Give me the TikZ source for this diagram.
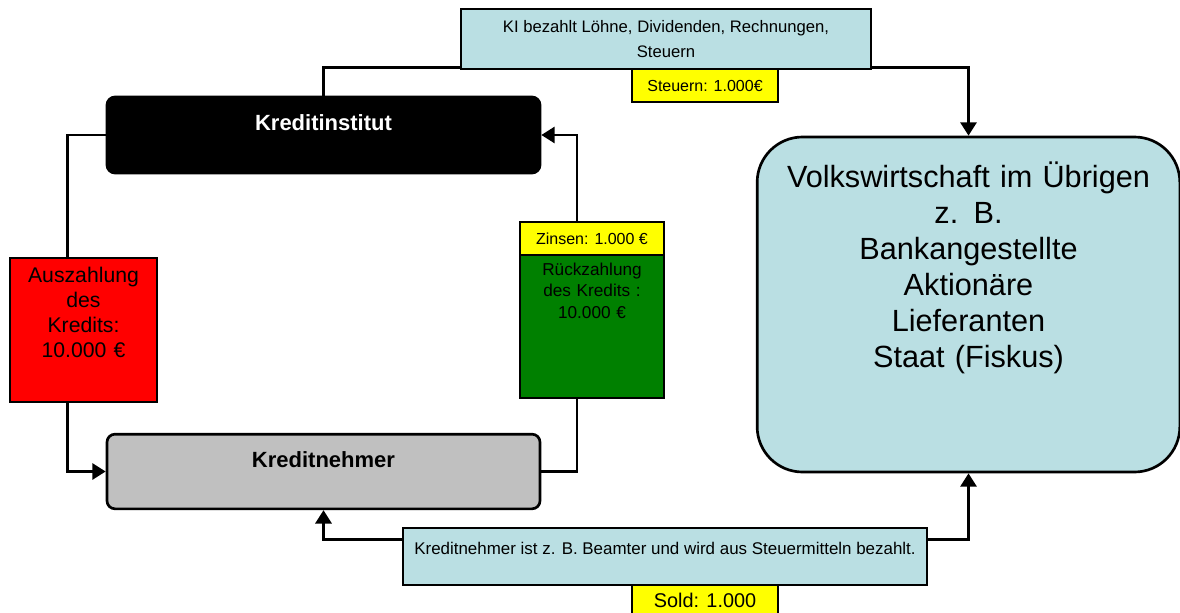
\documentclass[tikz,border=0pt]{standalone}
\usepackage{fontspec}
\setmainfont{Liberation Sans}
\usepackage{tikz}
\usetikzlibrary{calc}
\usetikzlibrary{arrows.meta}
\usepackage{xcolor}
\definecolor{hellblau}{HTML}{BADFE3}
\definecolor{grau}{HTML}{C0C0C0}
\definecolor{gruen}{HTML}{008000}
\definecolor{rot}{HTML}{FF0000}
\definecolor{gelb}{HTML}{FFFF00}

\begin{document}
\begin{tikzpicture}[x=0.75pt,y=-0.75pt,>={Triangle[width=12pt,length=10pt]},
  kasten/.style={draw,line width=2pt,inner sep=0pt,align=center},
  marke/.style={kasten,fill=gelb,font=\fontsize{12}{14}\selectfont},
  fluss/.style={line width=2.2pt}]
\useasboundingbox (0,0) rectangle (1180,613);

% Kreislauf links
\node[kasten,fill=black,rounded corners=6pt,minimum width=324.75pt,minimum height=57pt,
  label={[white,font=\bfseries\fontsize{16.5}{18}\selectfont,yshift=9pt]center:Kreditinstitut}] (ki) at (323.5,135) {};
\node[kasten,fill=grau,rounded corners=6pt,minimum width=324.75pt,minimum height=56pt,
  label={[font=\bfseries\fontsize{16.5}{18}\selectfont,yshift=8.6pt]center:Kreditnehmer}] (kn) at (323.5,471.5) {};
\node[kasten,fill=rot,text width=110.25pt,minimum height=108pt,text height=18.5pt,text depth=89.5pt,
  font=\fontsize{15.9}{18.75}\selectfont] (aus) at (83.5,330) {Auszahlung\\des\\Kredits:\\10.000 €};
\node[kasten,fill=gruen,text width=108pt,minimum height=107.25pt,text height=15pt,text depth=92.25pt,
  font=\fontsize{12.9}{16.2}\selectfont] (rueck) at (592,326.5) {Rückzahlung\\des Kredits :\\10.000 €};
\node[marke,minimum width=108pt,minimum height=24.75pt] (zins) at (592,238.5) {Zinsen: 1.000 €};

% Volkswirtschaft
\node[kasten,fill=hellblau,rounded corners=34pt,text width=317pt,minimum height=251.25pt,
  text height=37.5pt,text depth=213.75pt,font=\fontsize{23}{27}\selectfont] (vw) at (968.5,304.5)
  {Volkswirtschaft im Übrigen\\z. B.\\Bankangestellte\\Aktionäre\\Lieferanten\\Staat (Fiskus)};

\node[kasten,fill=hellblau,minimum width=307.5pt,minimum height=45pt,
  font=\fontsize{12.5}{18.75}\selectfont] (ausgaben) at (666,39)
  {KI bezahlt Löhne, Dividenden, Rechnungen,\\Steuern};
\node[marke,minimum width=109.5pt,minimum height=24.75pt] (steuer) at (705,85.5) {Steuern: 1.000€};

\node[kasten,fill=hellblau,minimum width=393pt,minimum height=42.75pt,
  label={[font=\fontsize{12.7}{14}\selectfont,yshift=6.4pt]center:Kreditnehmer ist z. B. Beamter und wird aus Steuermitteln bezahlt.}] (sold) at (665,556.5) {};
\node[marke,minimum width=109.5pt,minimum height=22.5pt,font=\fontsize{14.9}{16}\selectfont] (soldbetrag) at (705,600) {Sold: 1.000};

\draw[fluss] (ki.west) -| ([xshift=-12pt]aus.north);
\draw[fluss,->] ([xshift=-12pt]aus.south) |- (kn.west);
\draw[fluss] (kn.east) -| ([xshift=-11.25pt]rueck.south);
\draw[fluss,->] ([xshift=-11.25pt]zins.north) |- (ki.east);

\draw[fluss] ([yshift=2.25pt]ausgaben.south west) -| (ki.north);
\draw[fluss,->] ([yshift=2.25pt]ausgaben.south east) -| (vw.north);
\draw[fluss,->] ([yshift=-9.75pt]sold.north west) -| (kn.south);
\draw[fluss,->] ([yshift=-9.75pt]sold.north east) -| (vw.south);

\end{tikzpicture}
\end{document}
